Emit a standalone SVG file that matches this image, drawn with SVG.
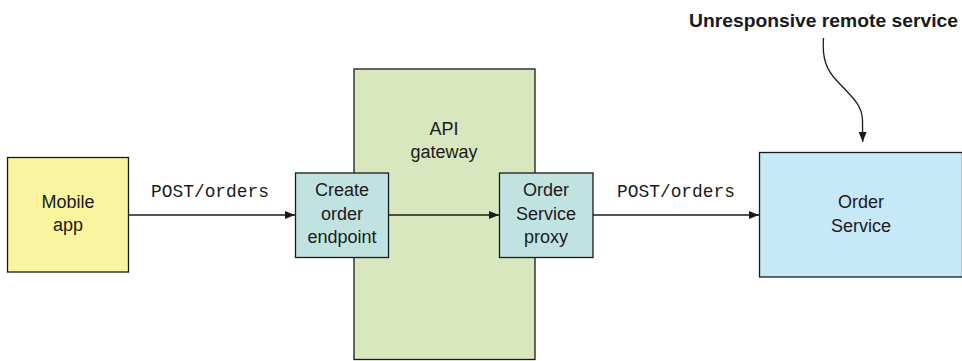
<svg xmlns="http://www.w3.org/2000/svg" width="962" height="361" viewBox="0 0 962 361">
<style>
.box{stroke:#1a1a1a;stroke-width:1.3}
.lbl{font-family:"Liberation Sans",Arial,sans-serif;font-size:18px;fill:#1a1a1a;text-anchor:middle}
.mono{font-family:"Liberation Mono","Courier New",monospace;font-size:18px;fill:#1a1a1a}
.conn{fill:none;stroke:#1a1a1a;stroke-width:1.3}
</style>
<defs>
<marker id="arr" viewBox="0 0 10 8" refX="10" refY="4" markerWidth="10" markerHeight="8" markerUnits="userSpaceOnUse" orient="auto">
<path d="M0,0 L10,4 L0,8 Z" fill="#1a1a1a"/>
</marker>
</defs>
<rect width="962" height="361" fill="#ffffff"/>
<g id="api-gateway">
<rect class="box" x="354" y="69" width="181" height="290.5" fill="#d9e7bf"/>
<text class="lbl" x="444" y="135">API</text>
<text class="lbl" x="444" y="158">gateway</text>
</g>
<g id="mobile-app">
<rect class="box" x="7.5" y="157.5" width="121" height="114.5" fill="#f9f49e"/>
<text class="lbl" x="68" y="208">Mobile</text>
<text class="lbl" x="68" y="231">app</text>
</g>
<g id="create-order-endpoint">
<rect class="box" x="295.5" y="173" width="93" height="84.5" fill="#c0e3e1"/>
<text class="lbl" x="342" y="196">Create</text>
<text class="lbl" x="342" y="219.5">order</text>
<text class="lbl" x="342" y="243">endpoint</text>
</g>
<g id="order-service-proxy">
<rect class="box" x="499.5" y="173" width="93.5" height="84.5" fill="#c0e3e1"/>
<text class="lbl" x="546" y="196">Order</text>
<text class="lbl" x="546" y="219.5">Service</text>
<text class="lbl" x="546" y="243">proxy</text>
</g>
<g id="order-service">
<rect class="box" x="759.5" y="152.5" width="203" height="124.5" fill="#c7e8f7"/>
<text class="lbl" x="861" y="208">Order</text>
<text class="lbl" x="861" y="232">Service</text>
</g>
<g id="annotation">
<text x="689" y="27" font-family="'Liberation Sans Narrow','Liberation Sans',Arial,sans-serif" font-weight="bold" font-size="18" fill="#1a1a1a" textLength="269" lengthAdjust="spacingAndGlyphs">Unresponsive remote service</text>
</g>
<g id="connectors">
<line class="conn" x1="128.5" y1="215" x2="295" y2="215" marker-end="url(#arr)"/>
<line class="conn" x1="388.5" y1="215" x2="499" y2="215" marker-end="url(#arr)"/>
<line class="conn" x1="593" y1="215" x2="759" y2="215" marker-end="url(#arr)"/>
<path class="conn" d="M823.5,38 C822,58 826,70 838,82 C852,97 862,105 862.5,120 L862.7,142" marker-end="url(#arr)"/>
<text class="mono" x="151" y="197" textLength="118" lengthAdjust="spacingAndGlyphs">POST/orders</text>
<text class="mono" x="617" y="197" textLength="118" lengthAdjust="spacingAndGlyphs">POST/orders</text>
</g>
</svg>
